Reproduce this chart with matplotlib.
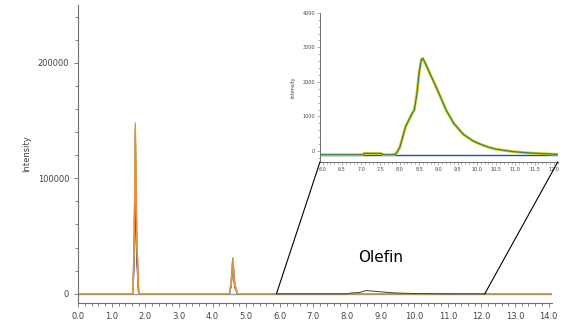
import matplotlib
matplotlib.use("Agg")
import matplotlib.pyplot as plt
from matplotlib.ticker import MultipleLocator, FormatStrFormatter
from matplotlib.patches import ConnectionPatch

# retention time grid for the full chromatogram (min)
t_main = [0.0, 1.63, 1.67, 1.70, 1.74, 1.80, 4.50, 4.55, 4.60, 4.66, 4.74, 14.1]

# overlapping injections (intensity at each t_main point)
run_orange = [0, 0, 60000, 148000, 55000, 0, 0, 9000, 30000, 8000, 0, 0]
run_yellow = [0, 0, 58000, 146000, 52000, 0, 0, 8500, 29500, 7500, 0, 0]
run_blue = [0, 0, 55000, 143000, 50000, 0, 0, 9500, 31000, 8500, 0, 0]
run_green = [0, 0, 50000, 138000, 48000, 0, 0, 8000, 28500, 7000, 0, 0]
run_red = [0, 0, 40000, 97000, 35000, 0, 0, 7000, 26000, 6000, 0, 0]
run_purple = [0, 0, 35000, 88000, 30000, 0, 0, 6500, 24000, 5500, 0, 0]
run_colors = ["#f08a3a", "#e0d030", "#3a86c0", "#40a050", "#c02030", "#7050a0"]

# olefin region (zoomed)
olefin_t = [5.93, 7.03, 7.08, 7.52, 7.58, 7.80, 7.90, 8.00, 8.08, 8.15, 8.22, 8.30, 8.38,
            8.45, 8.50, 8.56, 8.60, 8.68, 8.80, 8.94, 9.05, 9.20, 9.40, 9.65, 9.90,
            10.08, 10.30, 10.50, 10.94, 11.37, 12.1]
olefin_i = [-110, -110, -70, -75, -110, -110, -90, 100, 420, 700, 860, 1040, 1200,
            1700, 2250, 2650, 2680, 2500, 2200, 1860, 1580, 1190, 800, 480, 290,
            200, 110, 50, -20, -60, -100]
baseline = -115

fig = plt.figure(figsize=(5.75, 3.22), dpi=100)
ax = fig.add_axes([0.136, 0.059, 0.824, 0.925])

runs = [run_orange, run_yellow, run_blue, run_green, run_red, run_purple]
ax.axhline(0, color="#8aa0b8", lw=1.0, zorder=1)
# draw lower runs first so the orange/yellow traces stay on top
for r, c in list(zip(runs, run_colors))[::-1]:
    ax.plot(t_main, r, color=c, lw=0.9, zorder=2)
ax.plot(olefin_t, olefin_i, color="#404040", lw=0.7, zorder=3)

ax.set_xlim(0, 14.1)
ax.set_ylim(-8000, 250000)
ax.xaxis.set_major_locator(MultipleLocator(1.0))
ax.xaxis.set_minor_locator(MultipleLocator(0.2))
ax.xaxis.set_major_formatter(FormatStrFormatter("%.1f"))
ax.yaxis.set_major_locator(MultipleLocator(100000))
ax.yaxis.set_minor_locator(MultipleLocator(20000))
for s in ["top", "right"]:
    ax.spines[s].set_visible(False)
for s in ["left", "bottom"]:
    ax.spines[s].set_color("#707070")
    ax.spines[s].set_linewidth(0.8)
ax.tick_params(which="both", colors="#707070", labelcolor="#444444", labelsize=6, width=0.6)
ax.tick_params(which="major", length=3)
ax.tick_params(which="minor", length=2)
ax.set_ylabel("Intensity", fontsize=6, color="#444444", labelpad=5)
ax.text(9.0, 31000, "Olefin", fontsize=11, ha="center", va="center", color="black")

# inset
axi = fig.add_axes([0.5565, 0.497, 0.4135, 0.463])
axi.axhline(baseline, color="#2050a0", lw=1.0, zorder=1)
axi.plot(olefin_t, olefin_i, color="#d8cc20", lw=2.0, zorder=2)
axi.plot(olefin_t, olefin_i, color="#3a9a4a", lw=0.9, zorder=3)
axi.plot(olefin_t, olefin_i, color="#404040", lw=0.4, ls=(0, (1.5, 2.5)), zorder=4)
axi.set_xlim(5.93, 12.1)
axi.set_ylim(-320, 4000)
axi.xaxis.set_major_locator(MultipleLocator(0.5))
axi.xaxis.set_minor_locator(MultipleLocator(0.1))
axi.xaxis.set_major_formatter(FormatStrFormatter("%.1f"))
axi.yaxis.set_major_locator(MultipleLocator(1000))
axi.yaxis.set_minor_locator(MultipleLocator(200))
for s in ["top", "right"]:
    axi.spines[s].set_visible(False)
for s in ["left", "bottom"]:
    axi.spines[s].set_color("#707070")
    axi.spines[s].set_linewidth(0.7)
axi.tick_params(which="both", colors="#707070", labelcolor="#444444", labelsize=3.5, width=0.4)
axi.tick_params(which="major", length=2, pad=1.5)
axi.tick_params(which="minor", length=1.2)
axi.set_ylabel("Intensity", fontsize=3.5, color="#444444", labelpad=5)

# zoom connector lines
for xm, xi in [(5.9, 0), (12.1, 1)]:
    con = ConnectionPatch(xyA=(xm, 0), coordsA=ax.transData,
                          xyB=(xi, 0), coordsB=axi.transAxes,
                          color="black", lw=0.8)
    fig.add_artist(con)

fig.savefig("out.png", dpi=100)
